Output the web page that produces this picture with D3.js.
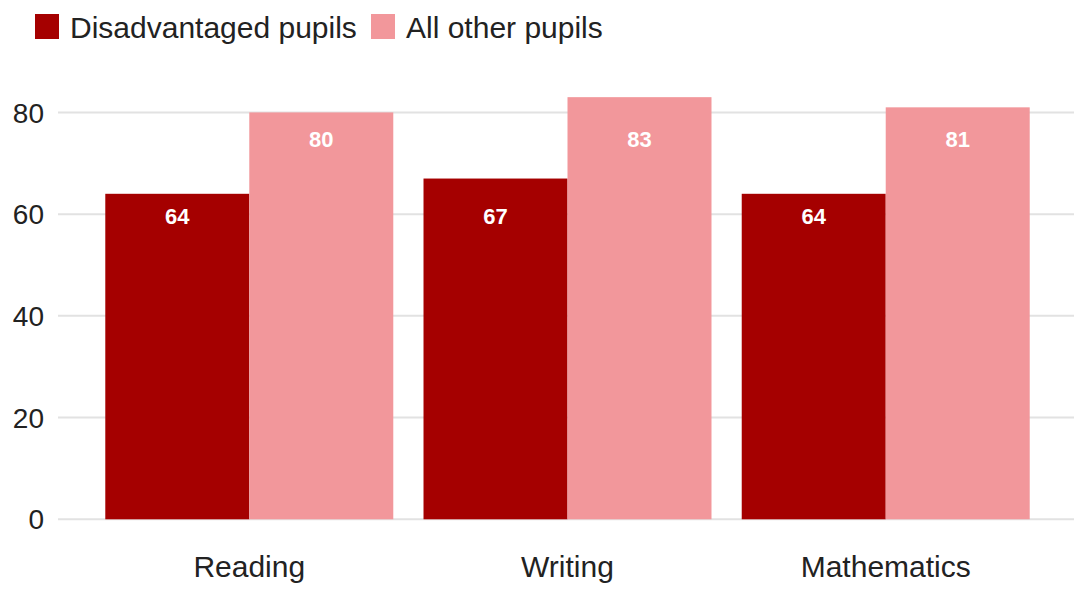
<!DOCTYPE html>
<html>
<script src="https://d3js.org/d3.v7.min.js"></script>

<head>
    <style>
        body {
            margin: 0;
            background-color: #ffffff;
            font-family: "Liberation Sans", Arial, Helvetica, sans-serif;
        }

        svg {
            display: block;
        }
    </style>
</head>

<body>
</body>
<script>
    const width = 1074,
        height = 602;

    const subjects = ["Reading", "Writing", "Mathematics"];
    const seriesNames = ["Disadvantaged pupils", "All other pupils"];
    const disadvantaged = [64, 67, 64];
    const allOther = [80, 83, 81];
    const yTicks = [0, 20, 40, 60, 80];

    const colors = ["#a50000", "#f2979b"];
    // labels sit at a fixed height per series, below the shortest bar
    const labelOffset = [30, 35];

    const svg = d3.select("body").append("svg").attr("width", width).attr("height", height);

    const rows = subjects.map((s, i) => ({
        subject: s,
        values: [disadvantaged[i], allOther[i]]
    }));

    const x0 = d3.scaleBand()
        .domain(subjects)
        .range([58, 1077])
        .paddingInner(0.095)
        .paddingOuter(0.1486);
    const x1 = d3.scaleBand()
        .domain(seriesNames)
        .range([0, x0.bandwidth()]);
    const y = d3.scaleLinear()
        .domain([0, 100])
        .range([519.3, 10.7]);

    // gridlines
    svg.append("g")
        .selectAll("line")
        .data(yTicks)
        .join("line")
        .attr("x1", 58)
        .attr("x2", width)
        .attr("y1", d => y(d))
        .attr("y2", d => y(d))
        .attr("stroke", "#e2e2e2")
        .attr("stroke-width", 2);

    // y tick labels
    svg.append("g")
        .selectAll("text")
        .data(yTicks)
        .join("text")
        .attr("x", 44)
        .attr("y", d => y(d))
        .attr("dy", "0.36em")
        .attr("text-anchor", "end")
        .attr("font-size", "28px")
        .attr("fill", "#222")
        .text(d => d);

    // bars
    const groups = svg.append("g")
        .selectAll("g")
        .data(rows)
        .join("g")
        .attr("transform", d => `translate(${x0(d.subject)},0)`);

    groups.selectAll("rect")
        .data(d => d.values.map((v, k) => ({ key: seriesNames[k], k: k, v: v })))
        .join("rect")
        .attr("x", d => x1(d.key))
        .attr("y", d => y(d.v))
        .attr("width", x1.bandwidth())
        .attr("height", d => y(0) - y(d.v))
        .attr("fill", d => colors[d.k]);

    const seriesMin = [d3.min(disadvantaged), d3.min(allOther)];
    groups.selectAll("text.value")
        .data(d => d.values.map((v, k) => ({ key: seriesNames[k], k: k, v: v })))
        .join("text")
        .attr("class", "value")
        .attr("x", d => x1(d.key) + x1.bandwidth() / 2)
        .attr("y", d => y(seriesMin[d.k]) + labelOffset[d.k])
        .attr("text-anchor", "middle")
        .attr("font-size", "22px")
        .attr("font-weight", "bold")
        .attr("fill", "#ffffff")
        .text(d => d.v);

    // category labels
    svg.append("g")
        .selectAll("text")
        .data(subjects)
        .join("text")
        .attr("x", d => x0(d) + x0.bandwidth() / 2)
        .attr("y", 577)
        .attr("text-anchor", "middle")
        .attr("font-size", "30px")
        .attr("fill", "#222")
        .text(d => d);

    // legend
    const legendX = [35, 371];
    const legend = svg.append("g")
        .selectAll("g")
        .data(seriesNames)
        .join("g")
        .attr("transform", (d, i) => `translate(${legendX[i]},14)`);
    legend.append("rect")
        .attr("width", 24)
        .attr("height", 25)
        .attr("fill", (d, i) => colors[i]);
    legend.append("text")
        .attr("x", 35)
        .attr("y", 24)
        .attr("font-size", "30px")
        .attr("fill", "#222")
        .text(d => d);
</script>

</html>
